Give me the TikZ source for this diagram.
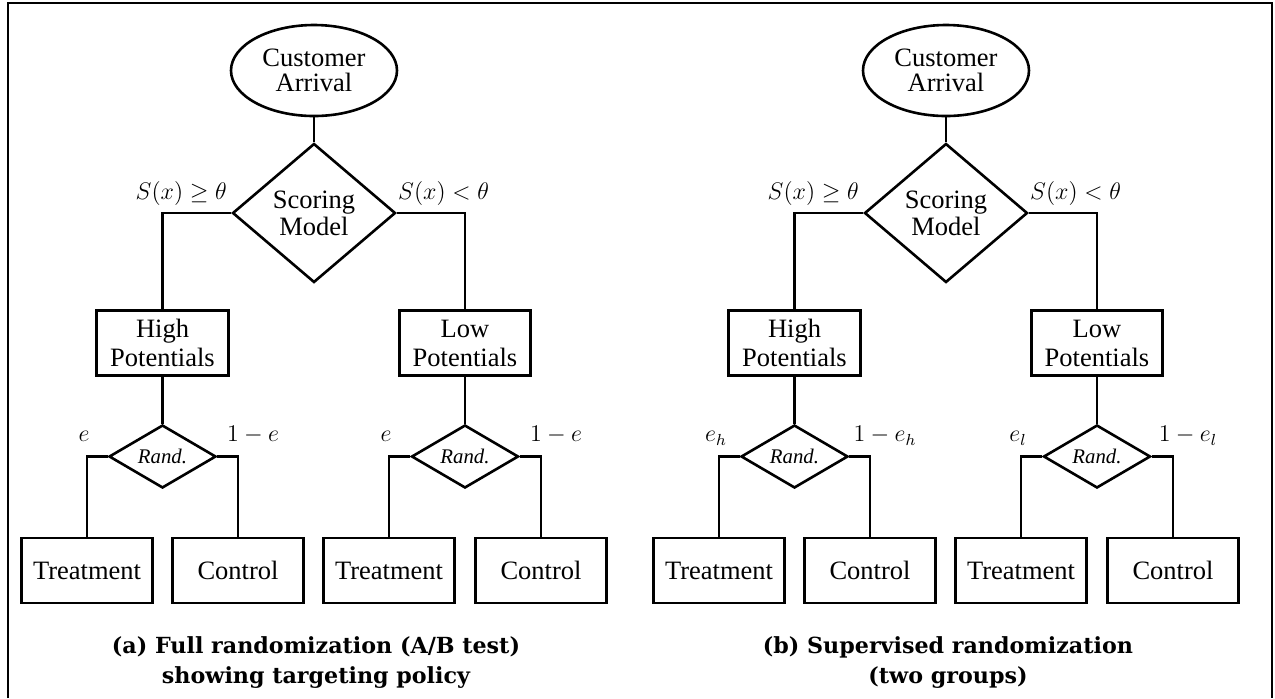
\documentclass[tikz,border=0pt]{standalone}
\usepackage{fontspec}
\setmainfont{LiberationSerif}[Extension=.ttf,UprightFont=*-Regular,BoldFont=*-Bold,ItalicFont=*-Italic,BoldItalicFont=*-BoldItalic]
\newfontfamily\capfont{DejaVu Serif}
\usetikzlibrary{shapes.geometric}
\tikzset{%
  StartStyle/.style={draw,ellipse,line width=1.3pt,inner sep=0pt,minimum width=83pt,minimum height=45.5pt,align=center,font=\fontsize{13.25}{12.8}\selectfont},
  ScoreStyle/.style={draw,diamond,line width=1.3pt,inner sep=0pt,minimum width=81.5pt,minimum height=69.5pt,align=center,font=\fontsize{13.25}{13.5}\selectfont},
  RandStyle/.style={draw,diamond,aspect=1.7,line width=1.3pt,inner sep=0pt,minimum width=53.5pt,minimum height=31.5pt,font=\fontsize{10.4}{12}\selectfont\itshape},
  BoxStyle/.style={draw,line width=1.3pt,inner sep=0pt,minimum width=65.75pt,minimum height=32.5pt,align=center,font=\fontsize{13.25}{14.5}\selectfont},
  LabelStyle/.style={inner sep=0pt,font=\fontsize{12}{14}\selectfont},
  CaptionStyle/.style={align=center,inner sep=0pt,font=\fontsize{11.1}{15}\capfont\bfseries},
  Link/.style={line width=1.3pt}
}

\begin{document}
\begin{tikzpicture}[x=0.5pt,y=-0.5pt]
  \useasboundingbox (0,0) rectangle (1275,698);
  \draw[line width=1pt] (8,698) -- (8,3) -- (1272,3) -- (1272,698);
  \foreach \p/\cx/\eh/\el/\capt in {%
    a/314/e/e/{(a) Full randomization (A/B test)\\showing targeting policy},
    b/946/e_h/e_l/{(b) Supervised randomization\\(two groups)}%
  }{
    \node[StartStyle] (\p-arr) at (\cx,70.5) {Customer\\Arrival};
    \node[ScoreStyle] (\p-scr) at (\cx,213) {Scoring\\Model};
    \node[BoxStyle] (\p-hi) at (\cx-151.5,343) {High\\Potentials};
    \node[BoxStyle] (\p-lo) at (\cx+151,343) {Low\\Potentials};
    \node[RandStyle] (\p-rhi) at (\cx-151.5,456.5) {Rand.};
    \node[RandStyle] (\p-rlo) at (\cx+151,456.5) {Rand.};
    \node[BoxStyle] (\p-thi) at (\cx-227,570.5) {Treatment};
    \node[BoxStyle] (\p-chi) at (\cx-76,570.5) {Control};
    \node[BoxStyle] (\p-tlo) at (\cx+75,570.5) {Treatment};
    \node[BoxStyle] (\p-clo) at (\cx+227,570.5) {Control};
    % links
    \draw[Link] (\p-arr) -- (\p-scr);
    \draw[Link] (\p-scr.west) -| (\p-hi.north);
    \draw[Link] (\p-scr.east) -| (\p-lo.north);
    \draw[Link] (\p-hi) -- (\p-rhi);
    \draw[Link] (\p-lo) -- (\p-rlo);
    \draw[Link] (\p-rhi.west) -| (\p-thi.north);
    \draw[Link] (\p-rhi.east) -| (\p-chi.north);
    \draw[Link] (\p-rlo.west) -| (\p-tlo.north);
    \draw[Link] (\p-rlo.east) -| (\p-clo.north);
    % labels
    \node[LabelStyle,anchor=base east,xshift=-2pt,yshift=7pt] (\p-ge) at (\p-scr.west) {$S(x)\geq\theta$};
    \node[LabelStyle,anchor=base west,xshift=0.5pt,yshift=7pt] (\p-lt) at (\p-scr.east) {$S(x)<\theta$};
    \node[LabelStyle,anchor=base,xshift=-1.5pt,yshift=7.5pt] (\p-ehi) at (\p-thi.north |- \p-rhi.west) {$\eh$};
    \node[LabelStyle,anchor=base,xshift=7.5pt,yshift=7.5pt] (\p-nhi) at (\p-chi.north |- \p-rhi.east) {$1-\eh$};
    \node[LabelStyle,anchor=base,xshift=-1.5pt,yshift=7.5pt] (\p-elo) at (\p-tlo.north |- \p-rlo.west) {$\el$};
    \node[LabelStyle,anchor=base,xshift=7.5pt,yshift=7.5pt] (\p-nlo) at (\p-clo.north |- \p-rlo.east) {$1-\el$};
    \node[CaptionStyle] (\p-cap) at (\cx+2,662.5) {\capt};
  }
\end{tikzpicture}
\end{document}
